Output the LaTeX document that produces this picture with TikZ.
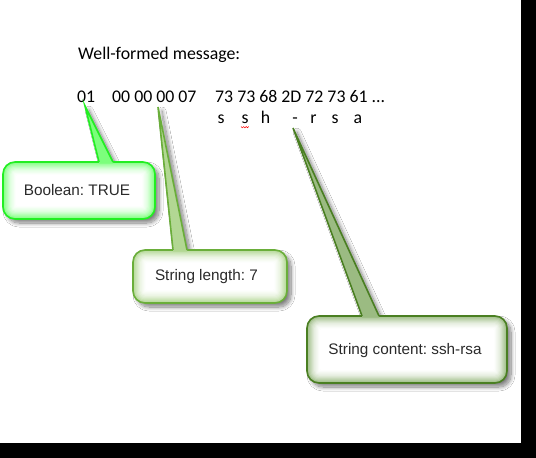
\documentclass[tikz,border=0pt]{standalone}
\usepackage{fontspec}
\setmainfont{Carlito}
\newfontfamily\arialf{Liberation Sans}
\usetikzlibrary{shadows.blur,calc}
\frenchspacing
\definecolor{bordA}{HTML}{22EE22}
\definecolor{edgeA}{HTML}{7CFF7C}
\definecolor{bordB}{HTML}{6AAE3A}
\definecolor{edgeB}{HTML}{B2D793}
\definecolor{bordC}{HTML}{4A7F22}
\definecolor{edgeC}{HTML}{9BBB82}
\definecolor{txtdark}{HTML}{2A2A2A}
\tikzset{
  hexlabel/.style={inner sep=0pt, anchor=base west, font=\fontsize{17.8}{20}\selectfont, text=black},
  chrlabel/.style={inner sep=0pt, anchor=base, font=\fontsize{17.8}{20}\selectfont, text=black},
  calltext/.style={inner sep=0pt, anchor=base, font=\arialf\fontsize{15.3}{18}\selectfont, text=txtdark},
  myshadow/.style={blur shadow={shadow xshift=4pt, shadow yshift=-4pt, shadow blur radius=4pt, shadow blur steps=10, shadow opacity=50}},
}
% #1 x1, #2 top, #3 x2, #4 bottom, #5 tip, #6 base left x, #7 base right x, #8 border, #9 edge
\newcommand\mycallout[9]{%
  \coordinate (bl) at (#6,#2);
  \coordinate (br) at (#7,#2);
  \fill[#9, myshadow] (bl) -- #5 -- (br) -- cycle;
  \fill[#9, myshadow, rounded corners=12pt] (#1,#2) rectangle (#3,#4);
  \foreach \i in {1,...,11} {
    \pgfmathsetmacro\ins{\i*1.2}
    \pgfmathtruncatemacro\pc{100*(1-\i/12)^2}
    \pgfmathsetmacro\rr{max(12-\ins,1)}
    \fill[#9!\pc!white, rounded corners=\rr pt] (#1+\ins,#2+\ins) rectangle (#3-\ins,#4-\ins);
  }
  \draw[#8, line width=1.6pt, rounded corners=12pt] (#1,#2) rectangle (#3,#4);
  \fill[#9] ($(bl)+(0,1.6)$) -- (bl) -- #5 -- (br) -- ($(br)+(0,1.6)$) -- cycle;
  \draw[#8, line width=1.6pt, line join=miter] (bl) -- #5 -- (br);
}
\begin{document}
\begin{tikzpicture}[x=1pt, y=-1pt]
  \useasboundingbox (0,0) rectangle (536,458);
  \fill[white] (0,0) rectangle (536,458);

  \node[hexlabel] (title) at (78,59) {Well-formed message:};
  \node[hexlabel] (bool) at (77,102) {01};
  \node[hexlabel] (len) at (112,102) {00 00 00 07};
  \node[hexlabel] (content) at (215,102) {73 73 68 2D 72 73 61 ...};

  \node[chrlabel] (c1) at (221,123.5) {s};
  \node[chrlabel] (c2) at (245,123.5) {s};
  \node[chrlabel] (c3) at (265.5,123.5) {h};
  \node[chrlabel] (c4) at (295,123.5) {-};
  \node[chrlabel] (c5) at (313.5,123.5) {r};
  \node[chrlabel] (c6) at (335,123.5) {s};
  \node[chrlabel] (c7) at (358,123.5) {a};
  \draw[red, line width=0.5pt] (241,126.5) -- (242.3,127.8) -- (243.6,126.5) -- (244.9,127.8) -- (246.2,126.5) -- (247.5,127.8) -- (248.8,126.5);

  \coordinate (tipA) at (85,106);
  \coordinate (tipB) at (158,107);
  \coordinate (tipC) at (293,128);

  \mycallout{3}{162}{155}{219}{(tipA)}{99}{113}{bordA}{edgeA}
  \mycallout{133}{250}{287}{303}{(tipB)}{173}{187}{bordB}{edgeB}
  \mycallout{307}{316}{507}{383}{(tipC)}{362}{379}{bordC}{edgeC}

  \node[calltext] (tA) at (77,195.5) {Boolean: TRUE};
  \node[calltext] (tB) at (206.5,280.5) {String length: 7};
  \node[calltext] (tC) at (405,354.5) {String content: ssh-rsa};

  \fill[black] (521,0) rectangle (536,458);
  \fill[black] (0,443) rectangle (536,458);
\end{tikzpicture}
\end{document}
